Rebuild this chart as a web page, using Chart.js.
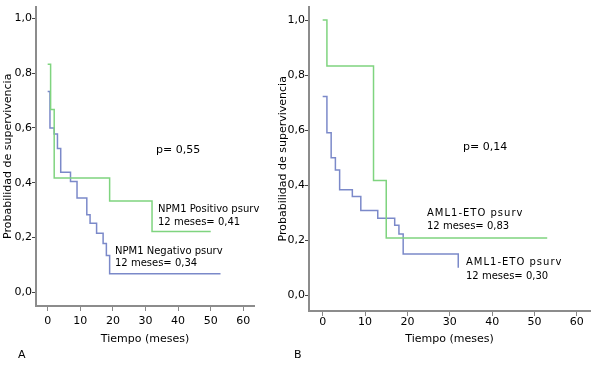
<!DOCTYPE html>
<html><head><meta charset="utf-8">
<script src="https://cdn.jsdelivr.net/npm/chart.js@4"></script>
<style>
html,body{margin:0;padding:0;background:#fff;}
#wrap{position:relative;width:592px;height:373px;overflow:hidden;background:#fff;}
canvas{position:absolute;top:0;}
#ca{left:0;}
#cb{left:270px;}
</style></head><body>
<div id="wrap"><canvas id="ca" width="270" height="373"></canvas><canvas id="cb" width="322" height="373"></canvas></div>
<script>
// ---- data ----
const xTicks = [0, 10, 20, 30, 40, 50, 60];
const yTicks = [0, 0.2, 0.4, 0.6, 0.8, 1.0];
const aPosTime = [0, 0.9, 2, 19, 32, 50];
const aPosSurv = [0.833, 0.667, 0.417, 0.333, 0.222, 0.222];
const aNegTime = [0, 0.7, 2, 3, 4, 7, 9, 12, 13, 15, 17, 18, 19, 53];
const aNegSurv = [0.733, 0.600, 0.578, 0.525, 0.438, 0.404, 0.344, 0.283, 0.252, 0.215, 0.178, 0.134, 0.067, 0.067];
const bPosTime = [0, 1, 12, 15, 53];
const bPosSurv = [1.0, 0.833, 0.417, 0.208, 0.208];
const bNegTime = [0, 1, 2, 3, 4, 7, 9, 13, 17, 18, 19, 32];
const bNegSurv = [0.722, 0.590, 0.500, 0.455, 0.383, 0.359, 0.308, 0.280, 0.254, 0.222, 0.150, 0.100];
const panelLabels = ['A', 'B'];
const pTexts = ['p= 0,55', 'p= 0,14'];
const aNotes = [['NPM1 Positivo psurv', '12 meses= 0,41'], ['NPM1 Negativo psurv', '12 meses= 0,34']];
const bNotes = [['AML1-ETO psurv', '12 meses= 0,83'], ['AML1-ETO psurv', '12 meses= 0,30']];
const yTitle = 'Probabilidad de supervivencia';
const xTitle = 'Tiempo (meses)';

// ---- styles / layout ----
const GREEN = '#7fd47f';
const BLUE = '#7b89c9';
const FONT = 'DejaVu Sans';
Chart.defaults.font.family = FONT;
Chart.defaults.color = '#000';

const toPts = (t, s) => t.map((v, i) => ({x: v, y: s[i]}));

const textPlugin = {
  id: 'texts',
  afterDraw(chart, args, opts) {
    const ctx = chart.ctx;
    (opts.items || []).forEach(it => {
      ctx.save();
      ctx.fillStyle = '#000';
      ctx.textBaseline = 'middle';
      ctx.textAlign = 'left';
      ctx.font = it.size + 'px "' + FONT + '"';
      if (it.ls && 'letterSpacing' in ctx) ctx.letterSpacing = it.ls;
      ctx.fillText(it.text, it.x, it.y);
      ctx.restore();
    });
  }
};

function makeChart(id, cfg) {
  return new Chart(document.getElementById(id), {
    type: 'line',
    data: {
      datasets: [
        {data: toPts(cfg.posT, cfg.posS), borderColor: GREEN, borderWidth: 1.5, stepped: true, pointRadius: 0, fill: false},
        {data: toPts(cfg.negT, cfg.negS), borderColor: BLUE, borderWidth: 1.5, stepped: true, pointRadius: 0, fill: false}
      ]
    },
    options: {
      responsive: false, animation: false, devicePixelRatio: 1,
      layout: {padding: {left: 0, top: 3, right: cfg.padR, bottom: cfg.padB}},
      plugins: {legend: {display: false}, tooltip: {enabled: false}, texts: {items: cfg.items}},
      scales: {
        x: {
          type: 'linear', min: cfg.xmin, max: cfg.xmax,
          afterBuildTicks: s => { s.ticks = xTicks.map(v => ({value: v})); },
          afterFit: s => { s.height = 50; },
          ticks: {font: {size: 11}, color: '#000', padding: cfg.xTickPad, maxRotation: 0, autoSkip: false, callback: v => String(v)},
          grid: {display: true, drawOnChartArea: false, drawTicks: true, tickLength: 5, color: '#888', lineWidth: 1},
          border: {display: true, color: '#8c8c8c', width: 2},
          title: {display: true, text: xTitle, font: {size: 11}, color: '#000', padding: {top: 0, bottom: cfg.xTitlePad}}
        },
        y: {
          type: 'linear', min: cfg.ymin, max: cfg.ymax,
          afterBuildTicks: s => { s.ticks = yTicks.map(v => ({value: v})); },
          afterFit: s => { s.width = cfg.yWidth; },
          ticks: {font: {size: 11}, color: '#000', padding: 0, autoSkip: false, callback: v => v.toFixed(1).replace('.', ',')},
          grid: {display: true, drawOnChartArea: false, drawTicks: true, tickLength: 4, color: '#444', lineWidth: 1},
          border: {display: true, color: '#8c8c8c', width: 2},
          title: {display: true, text: yTitle, font: {size: 11}, color: '#000', padding: {top: cfg.yTitlePad, bottom: 0}}
        }
      }
    },
    plugins: [textPlugin]
  });
}

makeChart('ca', {
  posT: aPosTime, posS: aPosSurv, negT: aNegTime, negS: aNegSurv,
  xmin: -3.58, xmax: 63.27, ymin: -0.0505, ymax: 1.0433,
  padR: 16, padB: 17, yWidth: 36, xTickPad: 4, xTitlePad: 10.4, yTitlePad: 2,
  items: [
    {text: pTexts[0], x: 156, y: 150, size: 11},
    {text: aNotes[0][0], x: 158, y: 209.5, size: 10},
    {text: aNotes[0][1], x: 158, y: 222, size: 10},
    {text: aNotes[1][0], x: 115, y: 251, size: 10},
    {text: aNotes[1][1], x: 115, y: 263.5, size: 10},
    {text: panelLabels[0], x: 18, y: 355, size: 11}
  ]
});

makeChart('cb', {
  posT: bPosTime, posS: bPosSurv, negT: bNegTime, negS: bNegSurv,
  xmin: -3.23, xmax: 63.1, ymin: -0.0575, ymax: 1.049,
  padR: 2, padB: 12, yWidth: 39, xTickPad: 0, xTitlePad: 15.4, yTitlePad: 6.7,
  items: [
    {text: pTexts[1], x: 193, y: 147, size: 11},
    {text: bNotes[0][0], x: 157, y: 213.5, size: 10, ls: '1px'},
    {text: bNotes[0][1], x: 157, y: 226.5, size: 10},
    {text: bNotes[1][0], x: 196, y: 262, size: 10, ls: '1px'},
    {text: bNotes[1][1], x: 196, y: 276, size: 10},
    {text: panelLabels[1], x: 24, y: 355, size: 11}
  ]
});
</script>
</body></html>
